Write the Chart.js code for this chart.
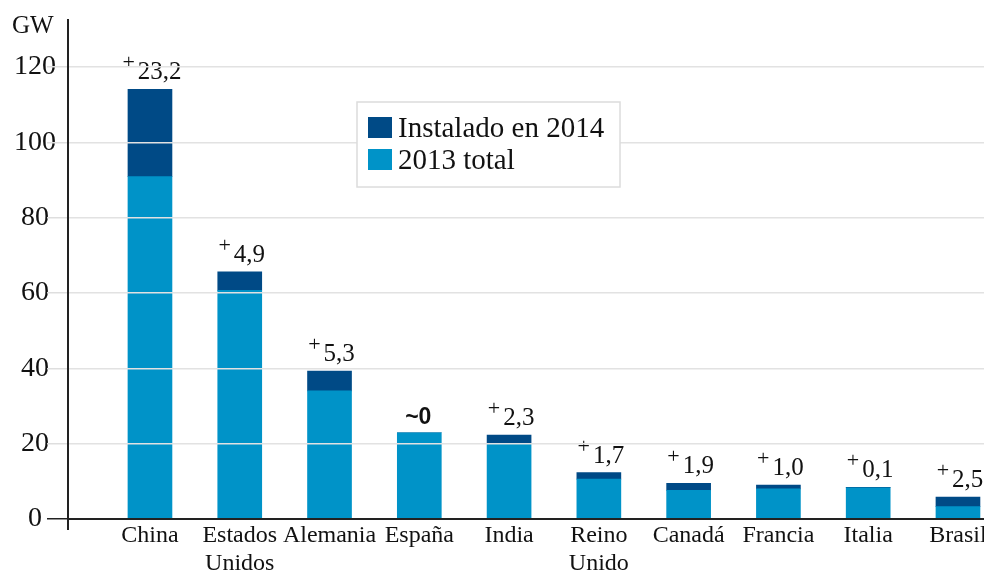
<!DOCTYPE html>
<html><head><meta charset="utf-8">
<script src="https://cdn.jsdelivr.net/npm/chart.js@4/dist/chart.umd.min.js"></script>
<style>html,body{margin:0;padding:0;background:#fff;overflow:hidden}#wrap{position:relative;width:984px;height:575px}</style>
</head><body><div id="wrap"><canvas id="c"></canvas></div>
<script>
const categories = ['China', ['Estados','Unidos'], 'Alemania', 'España', 'India', ['Reino','Unido'], 'Canadá', 'Francia', 'Italia', 'Brasil'];
const total2013 = [90.9, 60.7, 34.0, 22.9, 20.0, 10.6, 7.6, 8.0, 8.3, 3.3];
const installed2014 = [23.2, 4.9, 5.3, 0, 2.3, 1.7, 1.9, 1.0, 0.1, 2.5];
const yTicks = [0, 20, 40, 60, 80, 100, 120];
const unitLabel = 'GW';
const seriesNames = ['2013 total', 'Instalado en 2014'];
const seriesColors = ['#0093c8', '#004a86'];

const SERIF = "'Liberation Serif','Times New Roman',serif";
const SANS = "'Liberation Sans',Arial,sans-serif";

const valuesPlugin = {
  id: 'vals',
  afterDatasetsDraw(chart) {
    const ctx = chart.ctx;
    const meta = chart.getDatasetMeta(1);
    ctx.save();
    ctx.fillStyle = '#111';
    ctx.textBaseline = 'alphabetic';
    meta.data.forEach((bar, i) => {
      const v = installed2014[i];
      const x = bar.x, top = Math.min(bar.y, bar.base);
      if (v === 0) {
        ctx.font = 'bold 23px ' + SANS;
        ctx.textAlign = 'center';
        ctx.fillText('~0', x - 1, top - 9);
      } else {
        const num = v.toFixed(1).replace('.', ',');
        ctx.font = '25px ' + SERIF; const wn = ctx.measureText(num).width;
        ctx.font = '22px ' + SERIF; const wp = ctx.measureText('+').width;
        const gap = 3;
        const total = wp + gap + wn; const x0 = x + 2 - total / 2;
        ctx.textAlign = 'left';
        ctx.fillText('+', x0, top - 20);
        ctx.font = '25px ' + SERIF;
        ctx.fillText(num, x0 + wp + gap, top - 10);
      }
    });
    ctx.restore();
  }
};

const extrasPlugin = {
  id: 'extras',
  afterDraw(chart) {
    const ctx = chart.ctx;
    const a = chart.chartArea;
    ctx.save();
    ctx.fillStyle = '#111';
    ctx.font = '25px ' + SERIF;
    ctx.textAlign = 'left';
    ctx.textBaseline = 'alphabetic';
    ctx.fillText(unitLabel, 12, 33);
    ctx.strokeStyle = '#222'; ctx.lineWidth = 2;
    ctx.beginPath(); ctx.moveTo(a.left, a.bottom); ctx.lineTo(a.left, a.bottom + 11); ctx.stroke();
    const bx = 357, by = 102, bw = 263, bh = 85;
    ctx.fillStyle = '#fff'; ctx.fillRect(bx, by, bw, bh);
    ctx.strokeStyle = '#dcdcdc'; ctx.lineWidth = 1.5; ctx.strokeRect(bx, by, bw, bh);
    const order = [1, 0];
    order.forEach((di, k) => {
      const ds = chart.data.datasets[di];
      const y = 117 + k * 32;
      ctx.fillStyle = ds.backgroundColor;
      ctx.fillRect(368, y, 24, 21);
      ctx.fillStyle = '#111';
      ctx.font = '29px ' + SERIF;
      ctx.fillText(ds.label, 398, y + 20);
    });
    ctx.restore();
  }
};

new Chart(document.getElementById('c'), {
  type: 'bar',
  data: {
    datasets: [
      { label: seriesNames[0], data: total2013.map((v, i) => ({ x: i, y: v })), backgroundColor: seriesColors[0], barThickness: 44 },
      { label: seriesNames[1], data: installed2014.map((v, i) => ({ x: i, y: v })), backgroundColor: seriesColors[1], barThickness: 44 }
    ]
  },
  options: {
    responsive: true, maintainAspectRatio: false, animation: false,
    layout: { padding: { top: 20, left: 0, right: 0, bottom: 0 } },
    plugins: { legend: { display: false }, tooltip: { enabled: false } },
    scales: {
      x: {
        type: 'linear', min: -0.913, max: 9.29, stacked: true, offset: false,
        afterBuildTicks: s => { s.ticks = categories.map((_, i) => ({ value: i })); },
        afterFit: s => { s.height = 56; s.paddingLeft = 0; s.paddingRight = 0; },
        grid: { display: false, drawTicks: false, offset: false },
        border: { color: '#222', width: 2, z: 1 },
        ticks: { autoSkip: false, maxRotation: 0, minRotation: 0, color: '#111', padding: 2,
          font: { family: SERIF, size: 24, lineHeight: 1.2 },
          callback: v => categories[v] ?? '' }
      },
      y: {
        min: 0, max: 132.5, stacked: true,
        afterBuildTicks: s => { s.ticks = yTicks.map(v => ({ value: v })); },
        afterFit: s => { s.width = 68; s.paddingTop = 0; s.paddingBottom = 0; },
        grid: { z: 1, color: c => (c.tick && c.tick.value === 0) ? '#222' : '#e2e2e2', lineWidth: 1.5, tickLength: 21,
          tickColor: c => (c.tick && c.tick.value === 0) ? '#222' : '#dedede' },
        border: { color: '#222', width: 2, z: 1 },
        ticks: { color: '#111', crossAlign: 'center', padding: -9, font: { family: SERIF, size: 28 } }
      }
    }
  },
  plugins: [valuesPlugin, extrasPlugin]
});
</script></body></html>
